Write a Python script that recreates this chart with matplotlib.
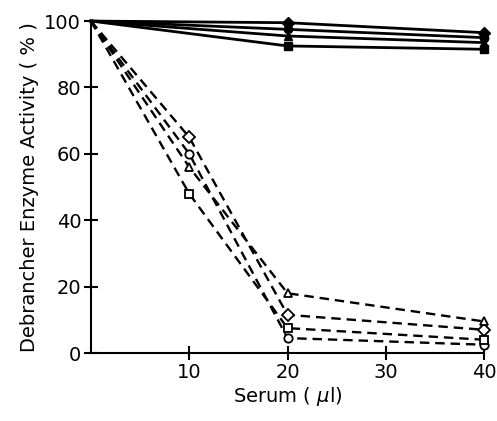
import numpy as np
import matplotlib
matplotlib.use("Agg")
import matplotlib.pyplot as plt

serum = [0, 10, 20, 40]
serum_ctrl = [0, 20, 40]

# solid lines (control, filled markers)
ctrl_diamond = [100, 99.5, 96.5]
ctrl_circle = [100, 97.5, 95.0]
ctrl_triangle = [100, 95.5, 93.5]
ctrl_square = [100, 92.5, 91.5]

# dashed lines (patient serum, open markers)
pat_diamond = [100, 65, 11.5, 7]
pat_circle = [100, 60, 4.5, 2.5]
pat_triangle = [100, 56, 18, 9.5]
pat_square = [100, 48, 7.5, 4]

fig = plt.figure(figsize=(4.97, 4.21), dpi=100)
ax = fig.add_axes([0.183, 0.1615, 0.791, 0.7885])

for y, m in [(ctrl_diamond, 'D'), (ctrl_circle, 'o'),
             (ctrl_triangle, '^'), (ctrl_square, 's')]:
    ax.plot(serum_ctrl, y, color='black', lw=2, marker=m, ms=6,
            mfc='black', mec='black', clip_on=False, markevery=[1, 2])

for y, m in [(pat_diamond, 'D'), (pat_circle, 'o'),
             (pat_triangle, '^'), (pat_square, 's')]:
    ax.plot(serum, y, color='black', lw=1.7, ls=(0, (4, 2.5)), marker=m,
            ms=6, mfc='white', mec='black', mew=1.3, clip_on=False,
            markevery=[1, 2, 3])

ax.set_xlim(0, 40)
ax.set_ylim(0, 100)
ax.set_xticks([10, 20, 30, 40])
ax.set_yticks([0, 20, 40, 60, 80, 100])
ax.spines['top'].set_visible(False)
ax.spines['right'].set_visible(False)
ax.spines['left'].set_linewidth(1.5)
ax.spines['bottom'].set_linewidth(1.5)
ax.tick_params(direction='inout', length=10, width=1.5, labelsize=14, pad=2)
ax.set_xlabel('Serum ( $\\mu$l)', fontsize=14, labelpad=2)
ax.set_ylabel('Debrancher Enzyme Activity ( % )', fontsize=14, labelpad=4)

fig.savefig('out.png', dpi=100)
